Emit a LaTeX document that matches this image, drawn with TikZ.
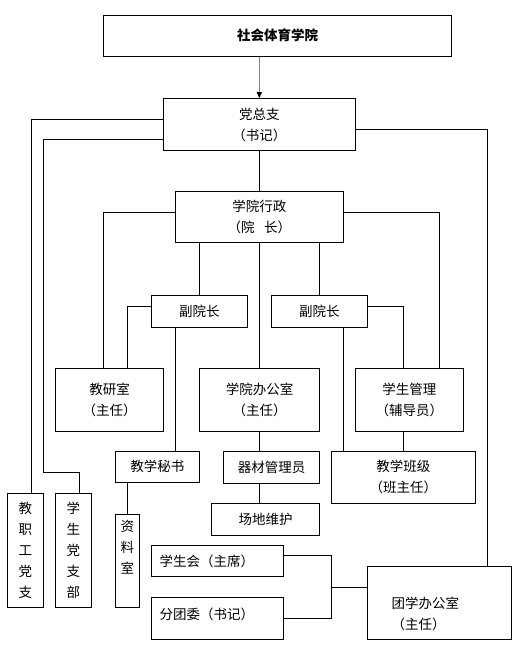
\documentclass[tikz,border=0pt]{standalone}
\usepackage{fontspec}
\setmainfont{Noto Sans CJK SC}
\usetikzlibrary{arrows.meta}
\begin{document}
\begin{tikzpicture}[x=1pt, y=-1pt, line width=1pt,
  box/.style={draw, inner sep=0pt, align=center, font=\fontsize{13.5}{21}\selectfont},
  txt/.style={inner sep=0pt, align=left, font=\fontsize{13.5}{21}\selectfont}]
  \useasboundingbox (0,0) rectangle (516,659);
  \node[box, minimum width=348pt, minimum height=41pt, font=\fontsize{13.5}{21}\selectfont\bfseries] (xy) at (277.5,35.5) {社会体育学院};
  \node[box, minimum width=192pt, minimum height=51.6pt] (dzz) at (259.3,124.5) {党总支\\（书记）};
  \node[box, minimum width=168pt, minimum height=51.3pt] (xzh) at (259.3,217.3) {学院行政\\（院\hspace{0.7em}长）};
  \node[box, minimum width=96pt, minimum height=31.7pt] (fyz1) at (199.3,311.2) {副院长};
  \node[box, minimum width=96pt, minimum height=31.7pt] (fyz2) at (319.3,311.2) {副院长};
  \node[box, minimum width=108.4pt, minimum height=62.7pt] (jys) at (109.5,399.7) {教研室\\（主任）};
  \node[box, minimum width=120.4pt, minimum height=62.7pt] (bgs) at (259.5,399.7) {学院办公室\\（主任）};
  \node[box, minimum width=108pt, minimum height=62.7pt] (xsgl) at (409.3,399.7) {学生管理\\（辅导员）};
  \node[box, minimum width=84pt, minimum height=31pt] (jxms) at (157.3,466.8) {教学秘书};
  \node[box, minimum width=96.4pt, minimum height=32pt] (qcgl) at (271.5,467.3) {器材管理员};
  \node[box, minimum width=144pt, minimum height=52pt] (jxbj) at (403.3,477.3) {教学班级\\（班主任）};
  \node[box, minimum width=108.4pt, minimum height=32pt] (cdwh) at (265.5,519.3) {场地维护};
  \node[box, minimum width=36pt, minimum height=114pt] (jzg) at (25.3,550.3) {教\\职\\工\\党\\支};
  \node[box, minimum width=36pt, minimum height=114pt] (xsdb) at (73.3,550.3) {学\\生\\党\\支\\部};
  \node[box, minimum width=24pt, minimum height=93.3pt] (zls) at (127.3,560.7) {};
  \node[txt, align=center, anchor=north] (zls-t) at (127.3,520) {资\\料\\室};
  \node[box, minimum width=132pt, minimum height=31pt] (xsh) at (217.3,560.8) {};
  \node[txt, anchor=west] (xsh-t) at (159,561) {学生会（主席）};
  \node[box, minimum width=132pt, minimum height=42pt] (ftw) at (217.3,618.3) {};
  \node[txt, anchor=west] (ftw-t) at (159,614) {分团委（书记）};
  \node[box, minimum width=144pt, minimum height=72.6pt] (txb) at (439.3,603) {};
  \node[txt, anchor=west] (txb-t) at (391,613.7) {团学办公室\\（主任）};

  \draw[gray, line width=1.2pt, -{Triangle[black, length=6pt, width=5pt]}] (xy.south -| dzz.north) -- (dzz.north);
  \draw (dzz.west |- 0,119) -| (31.3,0 |- jzg.north);
  \draw (dzz.west |- 0,139.3) -| (43.3,472.7) -| (79.3,0 |- xsdb.north);
  \draw (dzz.east |- 0,129.7) -| (487.3,0 |- txb.north);
  \draw (dzz.south) -- (xzh.north);
  \draw (xzh.west |- 0,212.3) -| (103.7,0 |- jys.north);
  \draw (xzh.east |- 0,212.3) -| (439.3,0 |- xsgl.north);
  \draw (xzh.south -| fyz1.north) -- (fyz1.north);
  \draw (xzh.south -| fyz2.north) -- (fyz2.north);
  \draw (xzh.south) -- (xzh.south |- bgs.north);
  \draw (fyz1.west |- 0,306.3) -| (127.7,0 |- jys.north);
  \draw (175.3,0 |- fyz1.south) -- (175.3,0 |- jxms.north);
  \draw (fyz2.east |- 0,306.3) -| (403.7,0 |- xsgl.north);
  \draw (343.3,0 |- fyz2.south) -- (343.3,0 |- jxbj.north);
  \draw (259.3,0 |- bgs.south) -- (259.3,0 |- qcgl.north);
  \draw (jxbj.north |- xsgl.south) -- (jxbj.north);
  \draw (259.3,0 |- qcgl.south) -- (259.3,0 |- cdwh.north);
  \draw (zls.north |- jxms.south) -- (zls.north);
  \draw (xsh.east |- 0,555.7) -| (331.3,587.3) |- (ftw.east |- 0,618);
  \draw (331.3,587.3) -- (txb.west |- 0,587.3);
\end{tikzpicture}
\end{document}
